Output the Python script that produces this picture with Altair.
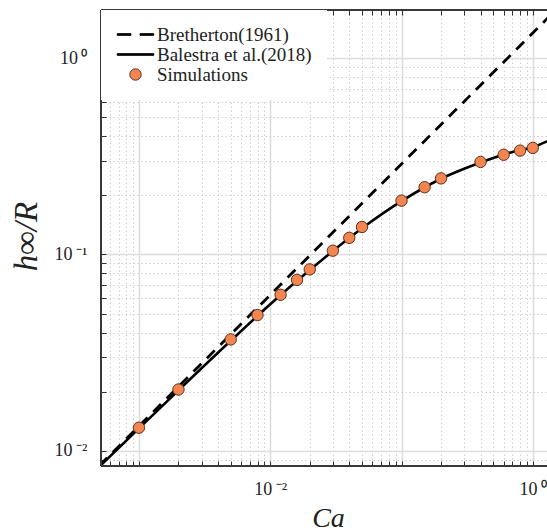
import altair as alt
import pandas as pd

# ---------------- data ----------------
ca_sim = [0.001, 0.002, 0.005, 0.008, 0.012, 0.016, 0.02, 0.03, 0.04, 0.05,
          0.1, 0.15, 0.2, 0.4, 0.6, 0.8, 1.0]
h_sim = [0.0131, 0.0205, 0.0369, 0.0491, 0.0623, 0.0742, 0.0839, 0.1045, 0.1215, 0.138,
         0.188, 0.220, 0.244, 0.296, 0.322, 0.338, 0.349]

ca_bre = [0.0005, 0.01, 1.3]
h_bre = [0.0084, 0.0622, 1.60]

ca_bal = [0.0005, 0.001, 0.002, 0.005, 0.01, 0.02, 0.05, 0.1, 0.2, 0.4, 0.7, 1.0, 1.3]
h_bal = [0.0083, 0.0130, 0.0203, 0.0363, 0.0557, 0.0832, 0.136, 0.187, 0.243, 0.294,
         0.333, 0.352, 0.378]

series_names = ["Bretherton(1961)", "Balestra et al.(2018)", "Simulations"]

x_ticks = [0.0005, 0.0006, 0.0007, 0.0008, 0.0009,
           0.001, 0.002, 0.003, 0.004, 0.005, 0.006, 0.007, 0.008, 0.009,
           0.01, 0.02, 0.03, 0.04, 0.05, 0.06, 0.07, 0.08, 0.09,
           0.1, 0.2, 0.3, 0.4, 0.5, 0.6, 0.7, 0.8, 0.9, 1.0]
y_ticks = [0.009,
           0.01, 0.02, 0.03, 0.04, 0.05, 0.06, 0.07, 0.08, 0.09,
           0.1, 0.2, 0.3, 0.4, 0.5, 0.6, 0.7, 0.8, 0.9, 1.0]
x_labels = {-2: "10\u2009\u207b\u00b2", 0: "10\u2009\u2070"}
y_labels = {-2: "10\u2009\u207b\u00b2", -1: "10\u2009\u207b\u00b9", 0: "10\u2009\u2070"}

# ---------------- layout ----------------
W, H = 446, 456
FONT = "Liberation Serif"
TXT = "#222222"

LOG = "(log(datum.value)/LN10)"
MAJOR = f"abs({LOG} - round({LOG})) < 1e-6"


def label_expr(d):
    expr = "''"
    for e, s in d.items():
        expr = f"abs({LOG} - ({e})) < 1e-6 ? '{s}' : " + expr
    return expr


grid_dash = {"condition": {"test": MAJOR, "value": []}, "value": [1.5, 2.5]}
grid_color = {"condition": {"test": MAJOR, "value": "#dddddd"}, "value": "#cfcfcf"}
grid_width = {"condition": {"test": MAJOR, "value": 1.6}, "value": 1}

xscale = alt.Scale(type="log", domain=[0.000514, 1.283], nice=False)
yscale = alt.Scale(type="log", domain=[0.00836, 1.759], nice=False)

x_axis_bottom = alt.Axis(
    values=x_ticks, labelExpr=label_expr(x_labels), labelOverlap=False, labelFlush=False,
    grid=True, gridDash=grid_dash, gridColor=grid_color, gridWidth=grid_width,
    ticks=True, tickSize=5, tickColor="#333333", tickWidth=1, offset=-5, domain=False,
    labelFont=FONT, labelFontSize=18, labelColor=TXT, labelPadding=14,
    title="Ca", titleFont=FONT, titleFontStyle="italic", titleFontWeight="normal",
    titleFontSize=28, titleColor=TXT, titleBaseline="alphabetic",
    titleX=W / 2 + 4, titleY=65, titleAlign="center",
)
x_axis_top = alt.Axis(
    orient="top", values=x_ticks, labels=False, grid=False, ticks=True, tickSize=5,
    tickColor="#333333", tickWidth=1, offset=-5, domain=False, title=None,
)
y_axis = alt.Axis(
    values=y_ticks, labelExpr=label_expr(y_labels), labelOverlap=False, labelFlush=False,
    grid=True, gridDash=grid_dash, gridColor=grid_color, gridWidth=grid_width,
    ticks=True, tickSize=5, tickColor="#333333", tickWidth=1, offset=-5, domain=False,
    labelFont=FONT, labelFontSize=18, labelColor=TXT, labelPadding=14, labelBaseline="middle",
    title="h\u221e/R", titleFont=FONT, titleFontStyle="italic", titleFontWeight="normal",
    titleFontSize=33, titleColor=TXT, titleAngle=270, titleBaseline="middle",
    titleAlign="center", titleX=-80, titleY=226,
)

y_enc = alt.Y("h:Q", scale=yscale, axis=y_axis)

df_sim = pd.DataFrame({"Ca": ca_sim, "h": h_sim, "series": "Simulations"})
df_bre = pd.DataFrame({"Ca": ca_bre, "h": h_bre})
df_bal = pd.DataFrame({"Ca": ca_bal, "h": h_bal})

bre = alt.Chart(df_bre).mark_line(
    color="black", strokeWidth=2.8, strokeDash=[11, 8], clip=True
).encode(x=alt.X("Ca:Q", scale=xscale, axis=x_axis_bottom), y=y_enc)

bal = alt.Chart(df_bal).mark_line(
    color="black", strokeWidth=2.6, clip=True, interpolate="monotone"
).encode(x=alt.X("Ca:Q", scale=xscale, axis=None), y=y_enc)

dash_path = "M-3.2,-0.14H-0.8V0.14H-3.2ZM0.8,-0.14H3.2V0.14H0.8Z"
solid_path = "M-3.2,-0.14H3.2V0.14H-3.2Z"

legend = alt.Legend(
    title=None, orient="none", legendX=0, legendY=0, fillColor="white", padding=15,
    labelFont=FONT, labelFontSize=19, labelColor=TXT, labelLimit=400,
    symbolSize=130, symbolStrokeWidth=1, rowPadding=0, symbolOffset=10, labelOffset=12,
)

pts = alt.Chart(df_sim).mark_point(filled=True, size=130, opacity=1, strokeWidth=1).encode(
    x=alt.X("Ca:Q", scale=xscale, axis=None),
    y=y_enc,
    fill=alt.Fill("series:N", scale=alt.Scale(domain=series_names,
                                              range=["black", "black", "#f28550"]), legend=legend),
    stroke=alt.Stroke("series:N", scale=alt.Scale(domain=series_names,
                                                  range=["black", "black", "#5a3320"]), legend=legend),
    shape=alt.Shape("series:N", scale=alt.Scale(domain=series_names,
                                                range=[dash_path, solid_path, "circle"]), legend=legend),
)

top_ticks = alt.Chart(df_sim).mark_point(opacity=0).encode(
    x=alt.X("Ca:Q", scale=xscale, axis=x_axis_top), y=y_enc
)

frame_col = "#3a3a3a"
left_line = alt.Chart(df_sim).mark_rule(color=frame_col, strokeWidth=1.5).encode(
    x=alt.value(0), y=alt.value(0), y2=alt.value(H))
bottom_line = alt.Chart(df_sim).mark_rule(color=frame_col, strokeWidth=1.5).encode(
    y=alt.value(H), x=alt.value(0), x2=alt.value(W))
top_line = alt.Chart(df_sim).mark_rule(color=frame_col, strokeWidth=1.5).encode(
    y=alt.value(0), x=alt.value(0), x2=alt.value(W))

chart = alt.layer(
    bre, bal, pts, top_ticks, left_line, bottom_line, top_line
).resolve_axis(x="independent").properties(
    width=W, height=H, autosize="none",
    padding={"left": 101, "top": 10, "right": 0, "bottom": 66},
    background="white",
).configure_view(stroke=None)

chart.save("out.html", embed_options={"renderer": "svg", "actions": False})
